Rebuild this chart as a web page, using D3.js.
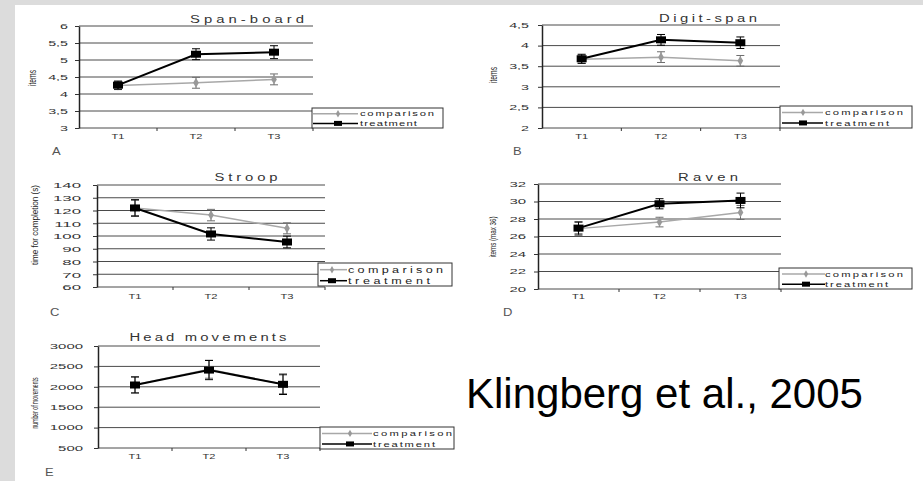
<!DOCTYPE html>
<html><head><meta charset="utf-8">
<script src="https://cdn.jsdelivr.net/npm/d3@7"></script>
<style>
body{margin:0;background:#dcdcdc;}
svg{display:block;font-family:"Liberation Sans",Arial,sans-serif;}
</style>
</head><body>
<svg id="chart" width="923" height="481"></svg>
<script>
// ---------- data ----------
const categories = ["T1", "T2", "T3"];
const seriesNames = ["comparison", "treatment"];

const spanTicks = [3, 3.5, 4, 4.5, 5, 5.5, 6];
const spanTickLabels = ["3", "3,5", "4", "4,5", "5", "5,5", "6"];
const spanComparison = [4.25, 4.33, 4.43];
const spanComparisonErr = [0.12, 0.16, 0.16];
const spanTreatment = [4.26, 5.17, 5.23];
const spanTreatmentErr = [0.12, 0.16, 0.19];

const digitTicks = [2, 2.5, 3, 3.5, 4, 4.5];
const digitTickLabels = ["2", "2,5", "3", "3,5", "4", "4,5"];
const digitComparison = [3.67, 3.72, 3.63];
const digitComparisonErr = [0.10, 0.13, 0.13];
const digitTreatment = [3.68, 4.14, 4.07];
const digitTreatmentErr = [0.11, 0.13, 0.14];

const stroopTicks = [60, 70, 80, 90, 100, 110, 120, 130, 140];
const stroopTickLabels = ["60", "70", "80", "90", "100", "110", "120", "130", "140"];
const stroopComparison = [122, 116.4, 106];
const stroopComparisonErr = [6, 4.5, 4.3];
const stroopTreatment = [122, 101.6, 95.3];
const stroopTreatmentErr = [6.5, 4.8, 4.6];

const ravenTicks = [20, 22, 24, 26, 28, 30, 32];
const ravenTickLabels = ["20", "22", "24", "26", "28", "30", "32"];
const ravenComparison = [26.9, 27.65, 28.75];
const ravenComparisonErr = [0.8, 0.55, 0.8];
const ravenTreatment = [26.96, 29.74, 30.12];
const ravenTreatmentErr = [0.68, 0.58, 0.84];

const headTicks = [500, 1000, 1500, 2000, 2500, 3000];
const headTickLabels = ["500", "1000", "1500", "2000", "2500", "3000"];
const headComparison = [2050, 2430, 2060];
const headComparisonErr = [200, 220, 230];
const headTreatment = [2044, 2410, 2061];
const headTreatmentErr = [195, 235, 250];

const titles = ["Span-board", "Digit-span", "Stroop", "Raven", "Head movements"];
const yLabels = ["items", "items", "time for completion (s)", "items (max 36)", "number of movements"];
const panelLetters = ["A", "B", "C", "D", "E"];
const citation = "Klingberg et al., 2005";

// ---------- layout ----------
const panels = [
  {ticks: spanTicks, labels: spanTickLabels, comp: spanComparison, compErr: spanComparisonErr, treat: spanTreatment, treatErr: spanTreatmentErr,
   x0: 79, x1: 313, yTop: 26, yBot: 128, tickFs: 6.5, tickSx: 2.2, labelRight: 68, xLabY: 139, xFs: 6.5, xSx: 1.7,
   titleX: 247, titleY: 23, titleW: 114, letterX: 52, letterY: 155,
   yLabX: 36, yLabY: 78, yLabW: 16, yLabFs: 10,
   legend: {x: 312, y: 108, w: 131, h: 20, l0: 1, l1: 46, m: 26, t: 48, cw: 74, tw: 57, fs: 8}},
  {ticks: digitTicks, labels: digitTickLabels, comp: digitComparison, compErr: digitComparisonErr, treat: digitTreatment, treatErr: digitTreatmentErr,
   x0: 542, x1: 780, yTop: 25, yBot: 128, tickFs: 6.5, tickSx: 2.2, labelRight: 529, xLabY: 139, xFs: 6.5, xSx: 1.7,
   titleX: 708, titleY: 22, titleW: 98, letterX: 513, letterY: 155,
   yLabX: 497, yLabY: 75, yLabW: 16, yLabFs: 10,
   legend: {x: 780, y: 106, w: 132, h: 22, l0: 2, l1: 43, m: 23, t: 45, cw: 78, tw: 64, fs: 8}},
  {ticks: stroopTicks, labels: stroopTickLabels, comp: stroopComparison, compErr: stroopComparisonErr, treat: stroopTreatment, treatErr: stroopTreatmentErr,
   x0: 97, x1: 325, yTop: 185, yBot: 287, tickFs: 8, tickSx: 2.1, labelRight: 81, xLabY: 299, xFs: 8, xSx: 1.4,
   titleX: 246, titleY: 181, titleW: 63, letterX: 50, letterY: 316,
   yLabX: 38, yLabY: 225, yLabW: 80, yLabFs: 9,
   legend: {x: 318, y: 263, w: 134, h: 23, l0: 2, l1: 29, m: 14, t: 30, cw: 95, tw: 82, fs: 9}},
  {ticks: ravenTicks, labels: ravenTickLabels, comp: ravenComparison, compErr: ravenComparisonErr, treat: ravenTreatment, treatErr: ravenTreatmentErr,
   x0: 538, x1: 781, yTop: 184, yBot: 289, tickFs: 6.5, tickSx: 2.3, labelRight: 526, xLabY: 299, xFs: 6.5, xSx: 1.7,
   titleX: 708, titleY: 181, titleW: 60, letterX: 503, letterY: 316,
   yLabX: 496, yLabY: 237, yLabW: 41, yLabFs: 9,
   legend: {x: 779, y: 268, w: 133, h: 21, l0: 3, l1: 46, m: 27, t: 46, cw: 78, tw: 63, fs: 8}},
  {ticks: headTicks, labels: headTickLabels, comp: headComparison, compErr: headComparisonErr, treat: headTreatment, treatErr: headTreatmentErr,
   x0: 98, x1: 320, yTop: 346, yBot: 448, tickFs: 6.5, tickSx: 2.3, labelRight: 83, xLabY: 459, xFs: 6.5, xSx: 1.7,
   titleX: 208, titleY: 341, titleW: 157, letterX: 45, letterY: 476,
   yLabX: 38, yLabY: 403, yLabW: 51, yLabFs: 9,
   legend: {x: 320, y: 427, w: 134, h: 22, l0: 2, l1: 52, m: 30, t: 53, cw: 79, tw: 62, fs: 8}}
];

const svg = d3.select("#chart");
svg.append("rect").attr("x", 15).attr("y", 5).attr("width", 923 - 15).attr("height", 481 - 5).attr("fill", "#fff");

const diamond = d3.symbol().type(d3.symbolDiamond).size(28);
const titleSx = 1.35, legendSx = 1.4;

panels.forEach((p, pi) => {
  const g = svg.append("g");
  const x = d3.scaleBand().domain(categories).range([p.x0, p.x1]);
  const y = d3.scaleLinear().domain([p.ticks[0], p.ticks[p.ticks.length - 1]]).range([p.yBot, p.yTop]);
  const cx = c => x(c) + x.bandwidth() / 2;

  // gridlines
  g.selectAll("line.grid").data(p.ticks).join("line").attr("class", "grid")
    .attr("x1", p.x0).attr("x2", p.x1).attr("y1", d => y(d)).attr("y2", d => y(d))
    .attr("stroke", "#4a4a4a").attr("stroke-width", 1);

  // y axis
  const ax = g.append("g").attr("transform", `translate(${p.x0},0)`)
    .call(d3.axisLeft(y).tickValues(p.ticks).tickSize(4).tickSizeOuter(0).tickFormat((d, i) => p.labels[i]));
  ax.attr("font-family", null).attr("font-size", null);
  ax.select(".domain").attr("stroke", "#222").attr("stroke-width", 1.5);
  ax.selectAll(".tick line").attr("stroke", "#333");
  ax.selectAll(".tick text")
    .attr("x", 0).attr("dy", "0.36em")
    .attr("transform", `translate(${p.labelRight - p.x0},0) scale(${p.tickSx},1)`)
    .attr("font-size", p.tickFs).attr("fill", "#333").attr("text-anchor", "end");

  // x axis ticks at band boundaries
  const bounds = d3.range(categories.length + 1).map(i => p.x0 + i * x.step());
  g.selectAll("line.xt").data(bounds.slice(1)).join("line").attr("class", "xt")
    .attr("x1", d => d).attr("x2", d => d).attr("y1", p.yBot).attr("y2", p.yBot + 3)
    .attr("stroke", "#333");
  g.selectAll("text.xl").data(categories).join("text").attr("class", "xl")
    .attr("transform", d => `translate(${cx(d)},${p.xLabY}) scale(${p.xSx},1)`)
    .attr("text-anchor", "middle").attr("font-size", p.xFs).attr("fill", "#333").text(d => d);

  // series
  const line = d3.line().x((d, i) => cx(categories[i])).y(d => y(d));
  const series = [
    {vals: p.comp, err: p.compErr, stroke: "#a8a8a8", sw: 1.5, errStroke: "#6e6e6e", kind: "diamond"},
    {vals: p.treat, err: p.treatErr, stroke: "#000", sw: 2, errStroke: "#000", kind: "square"}
  ];
  series.forEach(s => {
    g.append("path").attr("d", line(s.vals)).attr("fill", "none").attr("stroke", s.stroke).attr("stroke-width", s.sw);
    const eg = g.append("g").attr("stroke", s.errStroke).attr("stroke-width", 1);
    s.vals.forEach((v, i) => {
      const xc = cx(categories[i]);
      eg.append("line").attr("x1", xc).attr("x2", xc).attr("y1", y(v - s.err[i])).attr("y2", y(v + s.err[i]));
      eg.append("line").attr("x1", xc - 4).attr("x2", xc + 4).attr("y1", y(v - s.err[i])).attr("y2", y(v - s.err[i]));
      eg.append("line").attr("x1", xc - 4).attr("x2", xc + 4).attr("y1", y(v + s.err[i])).attr("y2", y(v + s.err[i]));
    });
    s.vals.forEach((v, i) => {
      const xc = cx(categories[i]);
      if (s.kind === "diamond") {
        g.append("path").attr("d", diamond()).attr("transform", `translate(${xc},${y(v)})`).attr("fill", "#999");
      } else {
        g.append("rect").attr("x", xc - 5).attr("y", y(v) - 3.5).attr("width", 10).attr("height", 7).attr("fill", "#000");
      }
    });
  });

  // title (horizontally widened, letter-spaced)
  g.append("text").attr("transform", `translate(${p.titleX - p.titleW / 2},${p.titleY}) scale(${titleSx},1)`)
    .attr("x", 0).attr("y", 0)
    .attr("textLength", p.titleW / titleSx).attr("lengthAdjust", "spacing")
    .attr("font-size", 11).attr("fill", "#333").text(titles[pi]);

  // y label
  g.append("text").attr("transform", `translate(${p.yLabX},${p.yLabY}) rotate(-90)`)
    .attr("x", -p.yLabW / 2).attr("y", 0)
    .attr("textLength", p.yLabW).attr("lengthAdjust", "spacingAndGlyphs")
    .attr("font-size", p.yLabFs).attr("fill", "#222").text(yLabels[pi]);

  // panel letter
  g.append("text").attr("transform", `translate(${p.letterX},${p.letterY}) scale(1.3,1)`)
    .attr("font-size", 10).attr("fill", "#555").text(panelLetters[pi]);

  // legend
  const L = p.legend;
  const lg = g.append("g");
  lg.append("rect").attr("x", L.x).attr("y", L.y).attr("width", L.w).attr("height", L.h)
    .attr("fill", "#fff").attr("stroke", "#333").attr("stroke-width", 1);
  const rows = [L.y + L.h * 0.29, L.y + L.h * 0.77];
  seriesNames.forEach((name, i) => {
    const ry = rows[i];
    lg.append("line").attr("x1", L.x + L.l0).attr("x2", L.x + L.l1).attr("y1", ry).attr("y2", ry)
      .attr("stroke", i === 0 ? "#a8a8a8" : "#000").attr("stroke-width", 1.5);
    if (i === 0) {
      lg.append("path").attr("d", d3.symbol().type(d3.symbolDiamond).size(16)()).attr("transform", `translate(${L.x + L.m},${ry})`).attr("fill", "#999");
    } else {
      lg.append("rect").attr("x", L.x + L.m - 4).attr("y", ry - 2.5).attr("width", 8).attr("height", 5).attr("fill", "#000");
    }
    lg.append("text").attr("transform", `translate(${L.x + L.t},${ry}) scale(${legendSx},1)`)
      .attr("x", 0).attr("y", 0).attr("dy", "0.33em")
      .attr("textLength", (i === 0 ? L.cw : L.tw) / legendSx).attr("lengthAdjust", "spacing")
      .attr("font-size", L.fs).attr("fill", "#222").text(name);
  });
});

// citation
svg.append("text").attr("x", 466).attr("y", 408).attr("font-size", 42).attr("fill", "#000").text(citation);
</script>
</body></html>
